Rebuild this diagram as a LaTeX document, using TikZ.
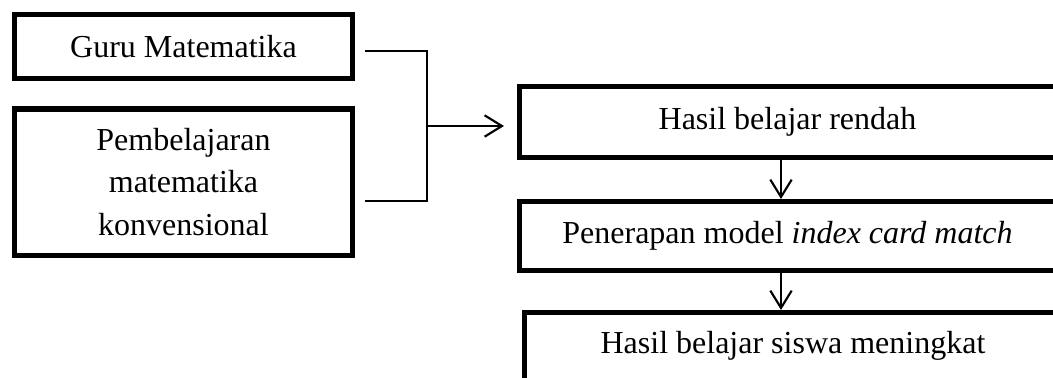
\documentclass[tikz,border=0pt]{standalone}
\usepackage{fontspec}
\setmainfont{Liberation Serif}
\usetikzlibrary{arrows.meta}
\begin{document}
\begin{tikzpicture}[x=0.75pt,y=-0.75pt,
  box/.style={draw=black, line width=3.75pt, rectangle, inner sep=0pt,
    font=\fontsize{24pt}{31pt}\selectfont, align=center},
  lbl/.style={inner sep=0pt, anchor=base, font=\fontsize{24pt}{31pt}\selectfont},
  conn/.style={draw=black, line width=1.6pt},
  arr/.style={conn, -{Straight Barb[length=13pt,width=16pt,line width=1.6pt]}}]
\useasboundingbox (0,0) rectangle (1053,378);
% left boxes
\node[box, minimum width=253.5pt, minimum height=47.625pt] (l1) at (183.5,46.75) {Guru Matematika};
\node[box, minimum width=253.5pt, minimum height=109.5pt] (l2) at (183.5,182) {Pembelajaran\\[1pt]matematika\\[1pt]konvensional};
% right boxes
\node[box, minimum width=402.75pt, minimum height=52.5pt] (r1) at (787.5,122) {Hasil belajar rendah};
\node[box, minimum width=402.75pt, minimum height=51.75pt] (r2) at (787.5,236) {Penerapan model \textit{index card match}};
\node[box, minimum width=403.5pt, minimum height=61.875pt] (r3) at (793,353.75) {};
\node[lbl] (r3t) at (793,353) {Hasil belajar siswa meningkat};
% bracket connector
\coordinate (c1) at (365,51);
\coordinate (c2) at (365,201);
\coordinate (jm) at (427,126);
\coordinate (tip) at (504,126);
\draw[conn] (c1) -| (jm) |- (c2);
\draw[arr] (jm) -- (tip);
% vertical arrows
\coordinate (ax) at (781,0);
\draw[arr] (r1.south -| ax) -- (r2.north -| ax);
\draw[arr] (r2.south -| ax) -- (r3.north -| ax);
\end{tikzpicture}
\end{document}
